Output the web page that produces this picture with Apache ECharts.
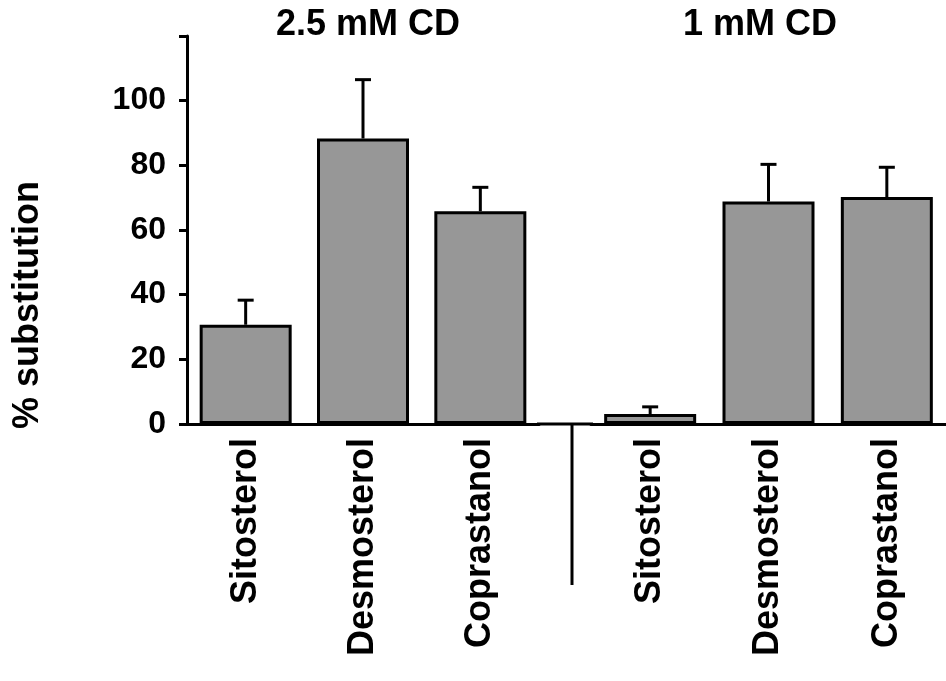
<!DOCTYPE html>
<html>
<head>
<meta charset="utf-8">
<script src="https://cdn.jsdelivr.net/npm/echarts@6/dist/echarts.min.js"></script>
<style>html,body{margin:0;padding:0;background:#fff}#c{width:946px;height:681px}</style>
</head>
<body>
<div id="c"></div>
<script>
var categories = ['Sitosterol', 'Desmosterol', 'Coprastanol'];
var groupTitles = ['2.5 mM CD', '1 mM CD'];
var values25 = [30.7, 88.3, 65.8];
var upper25 = [38.3, 106.5, 73.2];
var values1 = [3.1, 68.8, 70.2];
var upper1 = [5.3, 80.3, 79.4];
var yTicks = [0, 20, 40, 60, 80, 100, 120];
var yTitle = '% substitution';

var FONT = 'Liberation Sans, Arial, Helvetica, sans-serif';
var chart = echarts.init(document.getElementById('c'));

function errItem(params, api) {
  var x = api.value(0), hi = api.value(2), lo = api.value(1);
  var p0 = api.coord([x, lo]);
  var p1 = api.coord([x, hi]);
  var cap = 8;
  return {
    type: 'group',
    children: [
      {type: 'line', shape: {x1: p0[0], y1: p0[1], x2: p1[0], y2: p1[1]}, style: {stroke: '#000', lineWidth: 3}},
      {type: 'line', shape: {x1: p1[0] - cap, y1: p1[1], x2: p1[0] + cap, y2: p1[1]}, style: {stroke: '#000', lineWidth: 3}}
    ]
  };
}

function xAx(idx) {
  return {
    type: 'category', gridIndex: idx, data: categories,
    axisLine: {show: true, lineStyle: {color: '#000', width: 3}},
    axisTick: {show: false},
    axisLabel: {rotate: 90, margin: 14, color: '#000', fontFamily: FONT, fontWeight: 'bold', fontSize: 36}
  };
}

var option = {
  animation: false,
  backgroundColor: '#fff',
  grid: [
    {left: 187, width: 352, top: 36, bottom: 257, containLabel: false},
    {left: 591, width: 359, top: 36, bottom: 257, containLabel: false}
  ],
  xAxis: [xAx(0), xAx(1)],
  yAxis: [
    {
      type: 'value', gridIndex: 0, min: yTicks[0], max: yTicks[yTicks.length - 1], interval: 20,
      splitLine: {show: false},
      axisLine: {show: true, lineStyle: {color: '#000', width: 3}},
      axisTick: {show: true, length: 8, lineStyle: {color: '#000', width: 3}},
      axisLabel: {
        margin: 21, color: '#000', fontFamily: FONT, fontWeight: 'bold', fontSize: 32,
        formatter: function (v) { return v === 120 ? '' : String(v); }
      }
    },
    {
      type: 'value', gridIndex: 1, min: yTicks[0], max: yTicks[yTicks.length - 1], interval: 20,
      show: false, splitLine: {show: false}
    }
  ],
  series: [
    {
      type: 'bar', xAxisIndex: 0, yAxisIndex: 0, data: values25, barWidth: 92,
      itemStyle: {color: '#979797', borderColor: '#000', borderWidth: 3}
    },
    {
      type: 'bar', xAxisIndex: 1, yAxisIndex: 1, data: values1, barWidth: 92,
      itemStyle: {color: '#979797', borderColor: '#000', borderWidth: 3}
    },
    {
      type: 'custom', xAxisIndex: 0, yAxisIndex: 0, z: 1,
      data: values25.map(function (v, i) { return [i, v, upper25[i]]; }),
      renderItem: errItem
    },
    {
      type: 'custom', xAxisIndex: 1, yAxisIndex: 1, z: 1,
      data: values1.map(function (v, i) { return [i, v, upper1[i]]; }),
      renderItem: errItem
    }
  ],
  graphic: [
    {type: 'line', shape: {x1: 537, y1: 424, x2: 593, y2: 424}, style: {stroke: '#000', lineWidth: 3}},
    {type: 'line', shape: {x1: 572, y1: 424, x2: 572, y2: 585}, style: {stroke: '#000', lineWidth: 3}},
    {type: 'text', x: 368, y: 25, style: {text: groupTitles[0], textAlign: 'center', textVerticalAlign: 'middle', font: 'bold 36px ' + FONT, fill: '#000'}},
    {type: 'text', x: 760, y: 25, style: {text: groupTitles[1], textAlign: 'center', textVerticalAlign: 'middle', font: 'bold 36px ' + FONT, fill: '#000'}},
    {type: 'text', x: 28, y: 305, rotation: Math.PI / 2, style: {text: yTitle, textAlign: 'center', textVerticalAlign: 'middle', font: 'bold 36px ' + FONT, fill: '#000'}}
  ]
};
chart.setOption(option);
</script>
</body>
</html>
